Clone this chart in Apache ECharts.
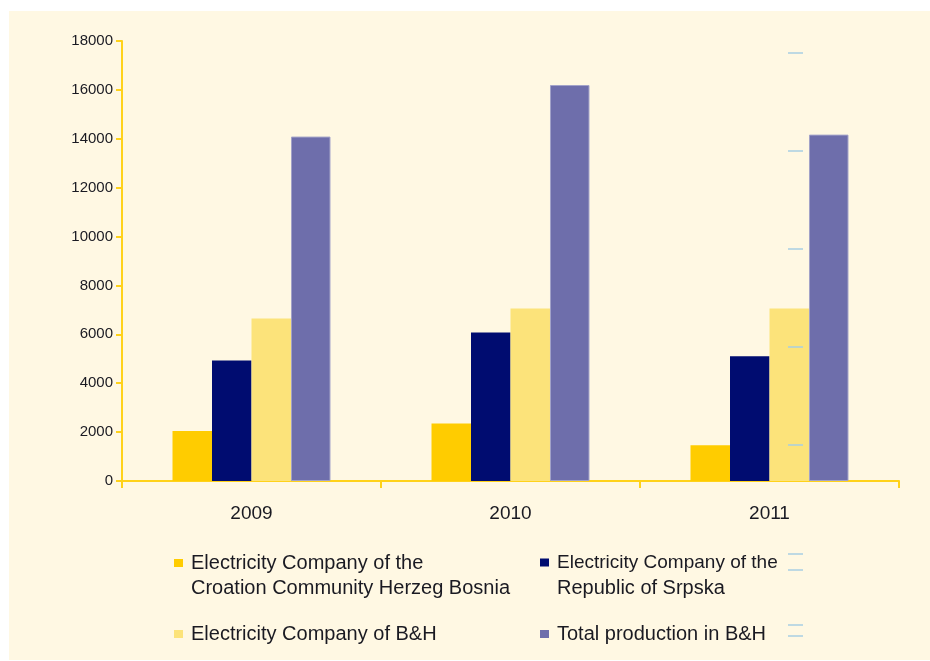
<!DOCTYPE html>
<html>
<head>
<meta charset="utf-8">
<script src="https://cdn.jsdelivr.net/npm/echarts@6/dist/echarts.min.js"></script>
<style>
html,body{margin:0;padding:0;background:#fff;}
#wrap{position:relative;width:930px;height:661px;background:#fff;}
#panel{position:absolute;left:9px;top:11px;width:921px;height:649px;background:#FFF8E3;}
#chart{position:absolute;left:0;top:0;width:930px;height:661px;}
</style>
</head>
<body>
<div id="wrap"><div id="panel"></div><div id="chart"></div></div>
<script>
const categories = ['2009', '2010', '2011'];
const seriesNames = [
  'Electricity Company of the Croation Community Herzeg Bosnia',
  'Electricity Company of the Republic of Srpska',
  'Electricity Company of B&H',
  'Total production in B&H'
];
const hzhbValues = [2050, 2350, 1460];
const srpskaValues = [4930, 6080, 5100];
const bihValues = [6650, 7060, 7060];
const totalValues = [14090, 16200, 14170];
const yTicks = { min: 0, max: 18000, interval: 2000 };

const colors = ['#FFCC00', '#000C70', '#FCE37A', '#6E6EAB'];
const font = '"Liberation Sans", Arial, sans-serif';
const axisColor = '#FFD21A';
const textColor = '#1a1a22';

const chart = echarts.init(document.getElementById('chart'), null, { renderer: 'canvas' });

function legendItem(idx, left, top, firstLine, size) {
  return {
    data: [seriesNames[idx]],
    left: left, top: top, padding: 0,
    orient: 'horizontal',
    icon: 'rect', itemWidth: 9, itemHeight: 8,
    itemStyle: { borderWidth: 0 },
    selectedMode: false,
    formatter: function () { return firstLine; },
    textStyle: { fontFamily: font, fontSize: size, color: textColor, padding: [0, 0, 0, 3] }
  };
}

const dashStyle = { stroke: '#A9CFE3', lineWidth: 1.5 };
const dashYs = [53, 151, 249, 347, 445, 554, 570, 625, 636];

chart.setOption({
  backgroundColor: 'transparent',
  animation: false,
  grid: { left: 122, right: 31, top: 41, bottom: 180, containLabel: false },
  xAxis: {
    type: 'category',
    data: categories,
    axisLine: { lineStyle: { color: axisColor, width: 2 } },
    axisTick: { show: true, length: 7, lineStyle: { color: axisColor, width: 2 } },
    axisLabel: { fontFamily: font, fontSize: 19, color: textColor, margin: 23 },
    splitLine: { show: false }
  },
  yAxis: {
    type: 'value',
    min: yTicks.min, max: yTicks.max, interval: yTicks.interval,
    axisLine: { show: true, lineStyle: { color: axisColor, width: 2 } },
    axisTick: { show: true, length: 6, lineStyle: { color: axisColor, width: 2 } },
    axisLabel: { fontFamily: font, fontSize: 15, color: textColor, margin: 9,
      formatter: function (v) { return String(v); } },
    splitLine: { show: false }
  },
  legend: [
    legendItem(0, 174, 553, 'Electricity Company of the', 20),
    legendItem(1, 540, 553, 'Electricity Company of the', 19),
    legendItem(2, 174, 624, 'Electricity Company of B&H', 20),
    legendItem(3, 540, 624, 'Total production in B&H', 20)
  ],
  graphic: [
    { type: 'text', left: 191, top: 578, style: { text: 'Croation Community Herzeg Bosnia', font: '20px ' + font, fill: textColor } },
    { type: 'text', left: 557, top: 578, style: { text: 'Republic of Srpska', font: '20px ' + font, fill: textColor } }
  ].concat(dashYs.map(function (y) {
    return { type: 'line', shape: { x1: 788, y1: y, x2: 803, y2: y }, style: dashStyle, z: 100 };
  })),
  series: [
    { name: seriesNames[0], type: 'bar', data: hzhbValues, itemStyle: { color: colors[0] }, barGap: '0%', barCategoryGap: '39%' },
    { name: seriesNames[1], type: 'bar', data: srpskaValues, itemStyle: { color: colors[1] } },
    { name: seriesNames[2], type: 'bar', data: bihValues, itemStyle: { color: colors[2] } },
    { name: seriesNames[3], type: 'bar', data: totalValues, itemStyle: { color: colors[3], borderColor: '#A3A3C9', borderWidth: 1 } }
  ]
});
</script>
</body>
</html>
